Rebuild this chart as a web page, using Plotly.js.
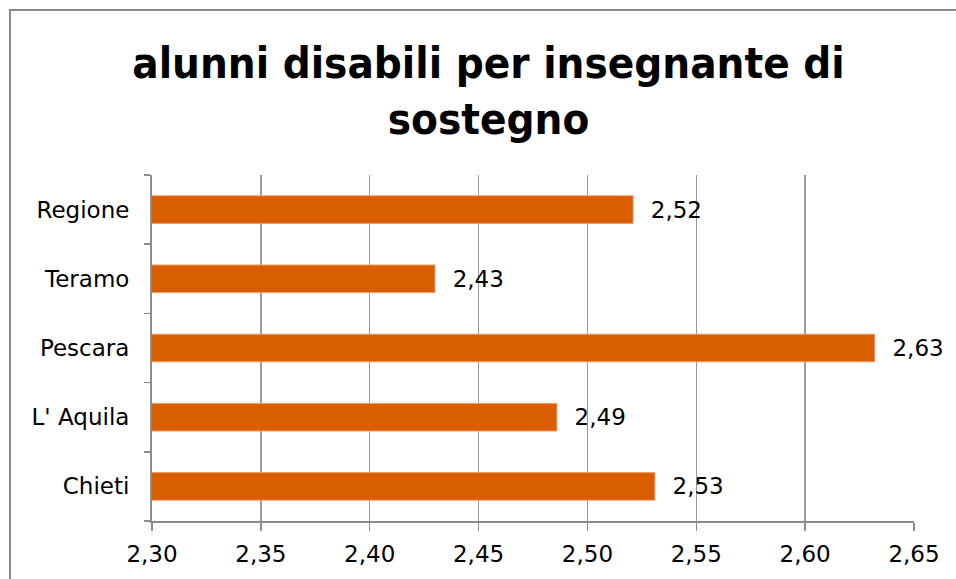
<!DOCTYPE html>
<html>
<head>
<meta charset="utf-8">
<script src="https://cdn.plot.ly/plotly-3.0.1.min.js"></script>
<style>html,body{margin:0;padding:0;background:#fff;}#chart{width:956px;height:579px;}</style>
</head>
<body>
<div id="chart"></div>
<script>
const categories = ["Chieti", "L' Aquila", "Pescara", "Teramo", "Regione"];
const values = [2.531, 2.486, 2.632, 2.430, 2.521];
const tickValues = [2.30, 2.35, 2.40, 2.45, 2.50, 2.55, 2.60, 2.65];
const titleText = "alunni disabili per insegnante di<br>sostegno";

const TFONT = "'DejaVu Sans Condensed', 'DejaVu Sans', sans-serif";
const FONT = "'DejaVu Sans', sans-serif";

const trace = {
  type: "bar",
  orientation: "h",
  y: categories,
  x: values,
  base: 0,
  width: 0.4,
  marker: { color: "#D95E00", line: { color: "#F0A070", width: 1 } },
  texttemplate: "  %{x:.2f}",
  textposition: "outside",
  textfont: { family: FONT, size: 23, color: "#000" },
  cliponaxis: false,
  hoverinfo: "skip"
};

const layout = {
  width: 956,
  height: 579,
  separators: ",.",
  paper_bgcolor: "#fff",
  plot_bgcolor: "#fff",
  margin: { l: 152, r: 42, t: 175, b: 58 },
  showlegend: false,
  title: {
    text: titleText,
    x: 0.511,
    xanchor: "center",
    y: 0.866,
    yanchor: "middle",
    font: { family: TFONT, size: 43.5, color: "#000", weight: "bold" }
  },
  xaxis: {
    range: [2.30, 2.65],
    tickvals: tickValues,
    tickformat: ".2f",
    showgrid: true,
    gridcolor: "#999",
    gridwidth: 1.5,
    zeroline: false,
    showline: true,
    linecolor: "#8c8c8c",
    linewidth: 2,
    ticks: "outside",
    ticklen: 8,
    tickcolor: "#8c8c8c",
    tickwidth: 1.5,
    ticklabelstandoff: 3,
    tickfont: { family: FONT, size: 23, color: "#000" },
    fixedrange: true
  },
  yaxis: {
    type: "category",
    categoryorder: "array",
    categoryarray: categories,
    range: [-0.5, 4.5],
    showgrid: false,
    showline: true,
    linecolor: "#8c8c8c",
    linewidth: 2,
    ticks: "outside",
    tickson: "boundaries",
    ticklen: 6,
    tickcolor: "#8c8c8c",
    tickwidth: 1.5,
    ticklabelstandoff: 16,
    tickfont: { family: FONT, size: 23, color: "#000" },
    fixedrange: true
  },
  shapes: [{
    type: "rect",
    xref: "paper", yref: "paper",
    x0: -0.1864, x1: 1.3, y0: -0.4, y1: 1.4769,
    line: { color: "#8a8a8a", width: 2 },
    fillcolor: "rgba(0,0,0,0)",
    layer: "below"
  }]
};

Plotly.newPlot("chart", [trace], layout, { displayModeBar: false, staticPlot: true });
</script>
</body>
</html>
